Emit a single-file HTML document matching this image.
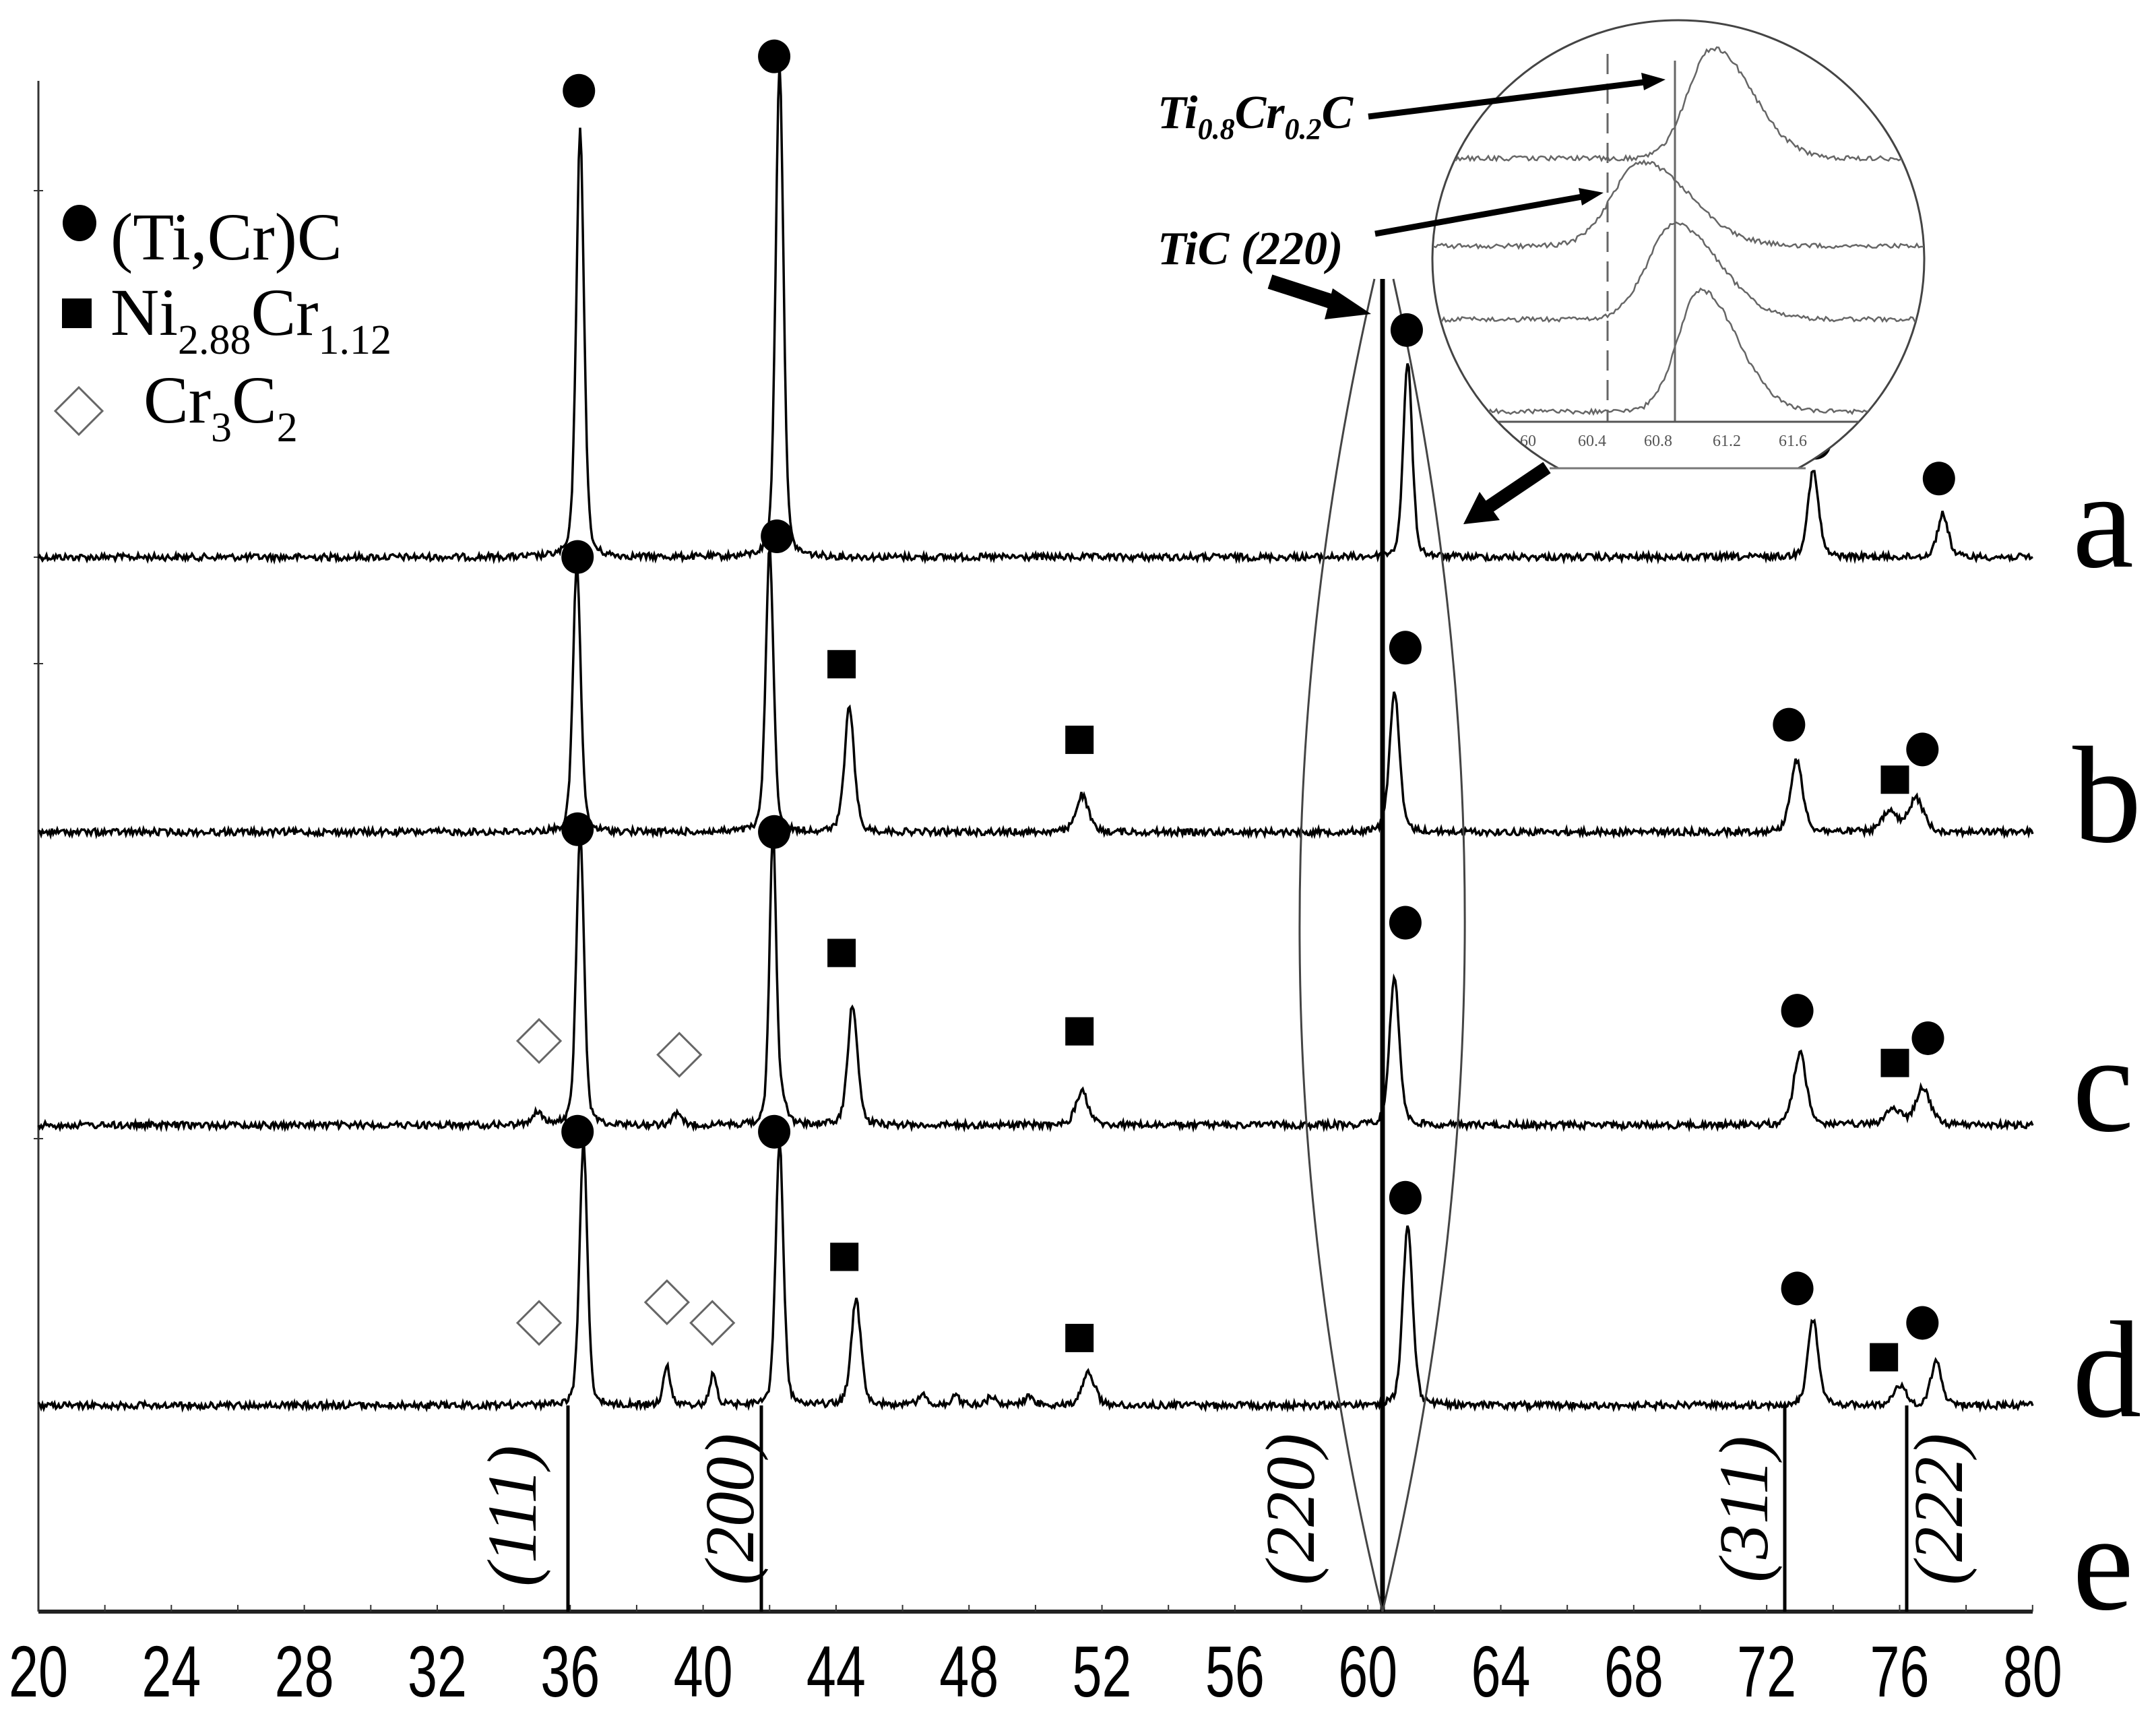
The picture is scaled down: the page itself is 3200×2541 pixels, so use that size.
<!DOCTYPE html>
<html><head><meta charset="utf-8"><style>
html,body{margin:0;padding:0;background:#fff;}
svg{display:block;}
</style></head><body>
<svg id="s" width="3200" height="2541" viewBox="0 0 3200 2541" xmlns="http://www.w3.org/2000/svg">
<defs>
<clipPath id="ec"><ellipse cx="2491" cy="385" rx="365" ry="355"/></clipPath>
<clipPath id="top"><rect x="2000" y="0" width="1000" height="695"/></clipPath>
</defs>
<rect width="3200" height="2541" fill="#fff"/>
<line x1="57" y1="120" x2="57" y2="2392" stroke="#333" stroke-width="3"/>
<line x1="57" y1="2392" x2="3017" y2="2392" stroke="#222" stroke-width="6"/>
<g id="xt" stroke="#333" stroke-width="2"></g>
<g stroke="#333" stroke-width="2">
<line x1="50" y1="283" x2="64" y2="283"/><line x1="50" y1="827" x2="64" y2="827"/><line x1="50" y1="985" x2="64" y2="985"/><line x1="50" y1="1690" x2="64" y2="1690"/>
</g>
<g font-family="Liberation Sans, sans-serif" font-size="108" text-anchor="middle" fill="#000" id="xl"></g>
<g id="tr" fill="none" stroke="#000" stroke-width="3.5"></g>
<g stroke="#000" stroke-width="5">
<line x1="843" y1="2086" x2="843" y2="2392"/>
<line x1="1130" y1="2086" x2="1130" y2="2392"/>
<line x1="2649" y1="2086" x2="2649" y2="2392"/>
<line x1="2830" y1="2086" x2="2830" y2="2392"/>
<line x1="2052" y1="414" x2="2052" y2="2392" stroke-width="7"/>
</g>
<path d="M2040,414 Q1812,1400 2052,2392 M2068,414 Q2288,1400 2052,2392" fill="none" stroke="#444" stroke-width="3"/>
<g font-family="Liberation Serif, serif" font-style="italic" font-size="104" fill="#000" text-anchor="middle">
<text transform="translate(795,2250) rotate(-90)">(111)</text>
<text transform="translate(1118,2240) rotate(-90)">(200)</text>
<text transform="translate(1950,2240) rotate(-90)">(220)</text>
<text transform="translate(2623,2240) rotate(-90)">(311)</text>
<text transform="translate(2912,2240) rotate(-90)">(222)</text>
</g>
<g id="mk"></g>
<ellipse cx="118" cy="331" rx="25" ry="27" fill="#000"/>
<rect x="92" y="443" width="44" height="44" fill="#000"/>
<polygon points="117,575 152,610 117,645 82,610" fill="none" stroke="#666" stroke-width="3"/>
<g font-family="Liberation Serif, serif" font-size="100" fill="#000">
<text x="164" y="385">(Ti,Cr)C</text>
<text x="164" y="497">Ni<tspan font-size="62" dy="28">2.88</tspan><tspan dy="-28">Cr</tspan><tspan font-size="62" dy="28">1.12</tspan></text>
<text x="213" y="627">Cr<tspan font-size="62" dy="28">3</tspan><tspan dy="-28">C</tspan><tspan font-size="62" dy="28">2</tspan></text>
</g>
<g font-family="Liberation Serif, serif" font-size="205" fill="#000">
<text x="3076" y="841">a</text>
<text x="3076" y="1249">b</text>
<text x="3076" y="1678">c</text>
<text x="3076" y="2102">d</text>
<text x="3076" y="2388">e</text>
</g>
<g clip-path="url(#top)">
<ellipse cx="2491" cy="385" rx="365" ry="355" fill="#fff" stroke="#444" stroke-width="3"/>
</g>
<line x1="2300" y1="695" x2="2680" y2="695" stroke="#777" stroke-width="3"/>
<g clip-path="url(#ec)">
<g id="ins" fill="none" stroke="#666" stroke-width="2.5"></g>
<line x1="2386" y1="80" x2="2386" y2="626" stroke="#666" stroke-width="3" stroke-dasharray="30,14"/>
<line x1="2486" y1="90" x2="2486" y2="626" stroke="#666" stroke-width="3"/>
<line x1="2216" y1="626" x2="2777" y2="626" stroke="#555" stroke-width="3"/>
<g font-family="Liberation Serif, serif" font-size="24" fill="#555" text-anchor="middle">
<text x="2268" y="662">60</text><text x="2363" y="662">60.4</text><text x="2461" y="662">60.8</text><text x="2563" y="662">61.2</text><text x="2661" y="662">61.6</text>
</g>
</g>
<g font-family="Liberation Serif, serif" font-style="italic" font-weight="bold" font-size="70" fill="#000">
<text x="1718" y="190">Ti<tspan font-size="44" dy="16">0.8</tspan><tspan dy="-16">Cr</tspan><tspan font-size="44" dy="16">0.2</tspan><tspan dy="-16">C</tspan></text>
<text x="1718" y="392">TiC (220)</text>
</g>
<g stroke="#000" fill="#000">
<line x1="2031" y1="173" x2="2440" y2="122" stroke-width="9"/>
<polygon points="2472,118 2436,108 2440,134" stroke="none"/>
<line x1="2041" y1="347" x2="2348" y2="292" stroke-width="9"/>
<polygon points="2380,286 2343,279 2348,305" stroke="none"/>
<line x1="1885" y1="418" x2="1990" y2="452" stroke-width="22"/>
<polygon points="2035,466 1978,428 1966,474" stroke="none"/>
<line x1="2296" y1="694" x2="2210" y2="752" stroke-width="20"/>
<polygon points="2172,778 2196,730 2226,772" stroke="none"/>
</g>
</svg>
<script>
(function(){
var NS="http://www.w3.org/2000/svg";
function X(t){return 57+(t-20)*49.33;}
var seed=12345;function rnd(){seed=(seed*1103515245+12345)%2147483648;return seed/2147483648;}
function el(n,a,p){var e=document.createElementNS(NS,n);for(var k in a)e.setAttribute(k,a[k]);p.appendChild(e);return e;}
var xt=document.getElementById('xt'),xl=document.getElementById('xl');
for(var t=20;t<=80;t+=2){var x=X(t);el('line',{x1:x,y1:2382,x2:x,y2:2392},xt);}
for(var t=20;t<=80;t+=4){var e=el('text',{x:X(t),y:2518,textLength:88,lengthAdjust:'spacingAndGlyphs'},xl);e.textContent=t;}
var traces=[
 [827,[[36.3,633,.16],[42.3,735,.16],[61.2,292,.18],[73.4,128,.22],[77.3,64,.22]]],
 [1235,[[36.2,398,.16],[42.0,420,.16],[44.4,184,.2],[51.4,55,.25],[60.8,210,.2],[72.9,106,.25],[75.7,30,.3],[76.5,50,.3]]],
 [1670,[[35.0,20,.2],[36.3,435,.16],[39.2,15,.2],[42.1,435,.14],[42.4,30,.15],[44.5,180,.2],[51.4,51,.25],[60.8,221,.2],[73.0,109,.25],[75.8,25,.3],[76.7,55,.3]]],
 [2086,[[36.4,392,.16],[38.9,59,.14],[40.3,45,.14],[42.3,392,.16],[44.6,157,.2],[46.6,14,.2],[47.6,12,.2],[48.7,14,.2],[49.8,12,.2],[51.6,49,.25],[61.2,269,.2],[73.4,127,.22],[76.0,30,.25],[77.1,65,.22]]]
];
var tr=document.getElementById('tr');
traces.forEach(function(T){
 var b=T[0],pk=T[1],d='';
 for(var x=57;x<=3017;x+=2){
  var t=20+(x-57)/49.33,y=b;
  pk.forEach(function(p){var dx=t-p[0],w=p[2]*0.8;
   y-=p[1]*(0.35*w*w/(dx*dx+w*w)+0.65*Math.exp(-dx*dx/(2*w*w*0.9)));});
  y+=(rnd()-0.5)*10;
  d+=(d?'L':'M')+x+','+y.toFixed(1);
 }
 el('path',{d:d},tr);
});
var ins=document.getElementById('ins');
[[235,2542,163,45],[365,2437,124,55],[474,2486,141,50],[611,2524,180,42]].forEach(function(c){
 var d='';
 for(var x=2110;x<=2880;x+=3){
  var dx=x-c[1],w=dx<0?c[3]*0.8:c[3]*1.3;
  var y=c[0]-c[2]*Math.exp(-dx*dx/(2*w*w))+(rnd()-0.5)*7;
  d+=(d?'L':'M')+x+','+y.toFixed(1);
 }
 el('path',{d:d},ins);
});
var mk=document.getElementById('mk');
var circ=[[421,66],[563,41],[1023,240],[1320,322],[1410,348],[420,405],[565,390],[1022,471],[1301,527],[1398,545],[420,603],[563,605],[1022,671],[1307,735],[1402,755],[420,823],[563,823],[1022,871],[1307,937],[1398,962]];
circ.forEach(function(c){el('ellipse',{cx:c[0]*2.041,cy:c[1]*2.041,rx:24,ry:25,fill:'#000'},mk);});
var sq=[[612,483],[785,538],[1378,567],[612,693],[785,750],[1378,773],[614,914],[785,973],[1370,987]];
sq.forEach(function(c){el('rect',{x:c[0]*2.041-21,y:c[1]*2.041-21,width:42,height:42,fill:'#000'},mk);});
var di=[[392,757],[494,767],[392,962],[485,947],[518,962]];
di.forEach(function(c){var x=c[0]*2.041,y=c[1]*2.041;el('polygon',{points:(x)+','+(y-32)+' '+(x+32)+','+y+' '+x+','+(y+32)+' '+(x-32)+','+y,fill:'#fff',stroke:'#666','stroke-width':3},mk);});
})();
</script>
</body></html>
